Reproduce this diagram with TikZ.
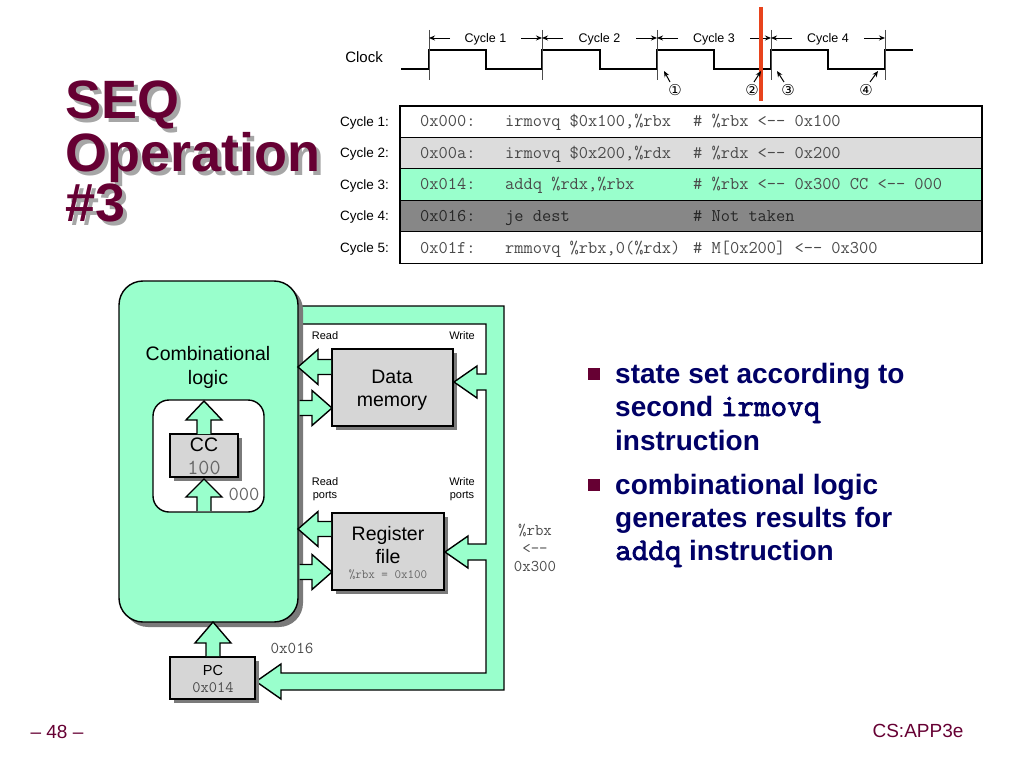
\documentclass[tikz,border=0pt]{standalone}
\usepackage{fontspec}
\setmainfont{Liberation Sans}
\newfontfamily\symfont{DejaVu Sans}
\newfontfamily\boldmono[FakeBold=2.2]{lmmono10-regular.otf}
\usetikzlibrary{arrows.meta,shadows}

\definecolor{mint}{HTML}{99FFCC}
\definecolor{titlered}{HTML}{660033}
\definecolor{navytext}{HTML}{000066}
\definecolor{boxgray}{HTML}{D6D6D6}
\definecolor{rowgray}{HTML}{DCDCDC}
\definecolor{darkrow}{HTML}{878787}
\definecolor{shadowgray}{HTML}{7A7A7A}
\definecolor{codegray}{HTML}{4A4A4A}
\definecolor{redline}{HTML}{E8431C}
\definecolor{titleshadow}{HTML}{A6A6A6}

\newcommand{\fs}[1]{\fontsize{#1}{#1}\selectfont}
\newcommand{\bulmonofont}{\boldmono\fs{31.5}}
\newcommand{\arr}{<-\kern0pt-}
\newcommand{\shadowtext}[1]{\rlap{\kern4pt\raisebox{-4pt}{\color{titleshadow}#1}}\color{titlered}#1}
% horizontal block arrow: tail x, head base x, tip x, centre y
\newcommand{\harrow}[4]{\filldraw[blk] (#1,{#4-7.5}) -- (#2,{#4-7.5}) -- (#2,{#4-17.5}) -- (#3,#4) -- (#2,{#4+17.5}) -- (#2,{#4+7.5}) -- (#1,{#4+7.5});}
% vertical block arrow: tail y, head base y, tip y, centre x
\newcommand{\varrow}[4]{\filldraw[blk] ({#4-7},#1) -- ({#4-7},#2) -- ({#4-18},#2) -- (#4,#3) -- ({#4+18},#2) -- ({#4+7},#2) -- ({#4+7},#1);}

\tikzset{
  blk/.style={fill=mint, draw=black, line width=1.4pt, line join=miter},
  box/.style={draw=black, line width=1.4pt, fill=boxgray, inner sep=0pt, outer sep=0pt,
    drop shadow={shadow xshift=4pt, shadow yshift=-4pt, fill=shadowgray, opacity=1}},
  rowbox/.style={draw=black, line width=1pt, minimum width=582pt, minimum height=31.5pt, inner sep=0pt, outer sep=0pt},
  code/.style={font=\ttfamily\fs{17.9}, text=codegray, inner sep=0pt, anchor=base west},
  cyclbl/.style={font=\fs{13.5}, inner sep=0pt, anchor=base east},
  cyc/.style={font=\fs{12.5}, inner sep=0pt, anchor=base},
  cycarrow/.style={-{Stealth[length=6pt,width=5pt]}, line width=0.9pt},
  ptr/.style={-{Stealth[length=6pt,width=5pt]}, line width=1pt},
  circ/.style={font=\symfont\fs{15}, inner sep=0pt},
  lbl/.style={font=\fs{19.5}, inner sep=0pt, anchor=base},
  small/.style={font=\fs{11}, inner sep=0pt, anchor=base},
  mono/.style={font=\ttfamily\fs{16.4}, text=codegray, inner sep=0pt, anchor=base},
  ttl/.style={font=\bfseries\fs{54}, inner sep=0pt, anchor=base west, text height=38pt, text depth=0pt},
  bul/.style={font=\bfseries\fs{28}, text=navytext, inner sep=0pt, anchor=base west, text height=20pt, text depth=4pt},
  foot/.style={font=\fs{19}, text=titlered, inner sep=0pt, anchor=base},
}

\begin{document}
\begin{tikzpicture}[x=1pt,y=-1pt]
\useasboundingbox (0,0) rectangle (1024,767);

% ---------- title ----------
\node[ttl] (t1) at (65,119) {\shadowtext{SEQ}};
\node[ttl] (t2) at (65,172) {\shadowtext{Operation}};
\node[ttl] (t3) at (65,222) {\shadowtext{\#3}};

% ---------- clock ----------
\node[font=\fs{15}, inner sep=0pt, anchor=base] (clk) at (364,62.5) {Clock};
\draw[line width=2pt] (401,69) -- (429,69) -- (429,50) -- (486,50) -- (486,69) -- (542,69) -- (542,50) -- (600,50) -- (600,69) -- (657,69) -- (657,50) -- (714,50) -- (714,69) -- (771,69) -- (771,50) -- (828,50) -- (828,69) -- (885,69) -- (885,50) -- (913,50);
\foreach \x in {429,542,657,771,885} \draw[line width=0.5pt, black!70] (\x,30) -- (\x,80);
\foreach \a/\b/\n in {429/542/1, 542/657/2, 657/771/3, 771/885/4} {
  \node[cyc] (cyc\n) at ({(\a+\b)/2},42.5) {Cycle \n};
  \coordinate (cl\n) at (\a,38);
  \coordinate (cr\n) at (\b,38);
  \draw[cycarrow] ({\a+21},38) -- (cl\n);
  \draw[cycarrow] ({\b-21},38) -- (cr\n);
}
\draw[redline, line width=3.5pt] (761,7) -- (761,101);
\node[circ] (n1) at (675,90) {①};
\node[circ] (n2) at (752,90) {②};
\node[circ] (n3) at (788,90) {③};
\node[circ] (n4) at (866,90) {④};
\coordinate (p1) at (664,71);
\coordinate (p2) at (761,71);
\coordinate (p3) at (777,71);
\coordinate (p4) at (878,71);
\draw[ptr] (670,82) -- (p1);
\draw[ptr] (754,82) -- (p2);
\draw[ptr] (784,82) -- (p3);
\draw[ptr] (870,82) -- (p4);

% ---------- instruction table ----------
\node[rowbox, fill=white]   (row1) at (691,121.75) {};
\node[rowbox, fill=rowgray] (row2) at (691,153.25) {};
\node[rowbox, fill=mint]    (row3) at (691,184.75) {};
\node[rowbox, fill=darkrow] (row4) at (691,216.25) {};
\node[rowbox, fill=white]   (row5) at (691,247.75) {};
\draw[line width=1.5pt] (row1.north west) rectangle (row5.south east);

\node[cyclbl] (cy1) at (389,126.5) {Cycle 1:};
\node[cyclbl] (cy2) at (389,158) {Cycle 2:};
\node[cyclbl] (cy3) at (389,189.5) {Cycle 3:};
\node[cyclbl] (cy4) at (389,221) {Cycle 4:};
\node[cyclbl] (cy5) at (389,252.5) {Cycle 5:};

\node[code] (a1) at (420,127) {0x000:};
\node[code] (i1) at (505,127) {irmovq \$0x100,\%rbx};
\node[code] (c1) at (693,127) {\# \%rbx \arr{} 0x100};
\node[code] (a2) at (420,158.5) {0x00a:};
\node[code] (i2) at (505,158.5) {irmovq \$0x200,\%rdx};
\node[code] (c2) at (693,158.5) {\# \%rdx \arr{} 0x200};
\node[code] (a3) at (420,190) {0x014:};
\node[code] (i3) at (505,190) {addq \%rdx,\%rbx};
\node[code] (c3) at (693,190) {\# \%rbx \arr{} 0x300 CC \arr{} 000};
\node[code, text=black!85] (a4) at (420,221.5) {0x016:};
\node[code, text=black!85] (i4) at (505,221.5) {je dest};
\node[code, text=black!85] (c4) at (693,221.5) {\# Not taken};
\node[code] (a5) at (420,253) {0x01f:};
\node[code] (i5) at (505,253) {rmmovq \%rbx,0(\%rdx)};
\node[code] (c5) at (693,253) {\# M[0x200] \arr{} 0x300};

% ---------- memories ----------
\node[box, minimum width=121pt, minimum height=77pt] (dmem) at (392.5,387.5) {};
\node[lbl] (dm1) at (392,383.5) {Data};
\node[lbl] (dm2) at (392,406.5) {memory};
\node[box, minimum width=112pt, minimum height=77pt] (rf) at (388,551.5) {};
\node[lbl] (rf1) at (388,540.5) {Register};
\node[lbl] (rf2) at (388,563.5) {file};
\node[mono, font=\ttfamily\fs{12.7}, text=black!60] (rf3) at (388,578.5) {\%rbx = 0x100};

\node[small] (rd1) at (325,339) {Read};
\node[small] (wr1) at (462,339) {Write};
\node[small] (rd2) at (325,485) {Read};
\node[small] (rd3) at (325,498.5) {ports};
\node[small] (wr2) at (462,485) {Write};
\node[small] (wr3) at (462,498.5) {ports};

% ---------- feedback bus ----------
\filldraw[blk] (298,306) -- (504,306) -- (504,690) -- (281,690) -- (281,699) -- (256,681.5) -- (281,664) -- (281,673)
  -- (486,673) -- (486,560) -- (468,560) -- (468,568) -- (445,552) -- (468,536) -- (468,544) -- (486,544)
  -- (486,390) -- (477,390) -- (477,398) -- (454,382) -- (477,366) -- (477,374) -- (486,374) -- (486,324) -- (298,324);

\node[mono] (v1) at (535,535) {\%rbx};
\node[mono] (v2) at (535,553) {\arr};
\node[mono] (v3) at (535,571) {0x300};
\node[mono, font=\ttfamily\fs{16.6}] (v4) at (292,653) {0x016};

% ---------- combinational logic ----------
\node[box, fill=mint, rounded corners=24pt, minimum width=179pt, minimum height=341pt,
  drop shadow={shadow xshift=5pt, shadow yshift=-5pt, fill=shadowgray, opacity=1}] (comb) at (208.5,451.5) {};
\node[lbl] (cb1) at (208,360) {Combinational};
\node[lbl] (cb2) at (208,384) {logic};
\node[draw=black, line width=1.4pt, fill=white, rounded corners=16pt, minimum width=111pt, minimum height=112pt, inner sep=0pt] (inner) at (208.5,456) {};
\node[box, minimum width=68pt, minimum height=43pt] (cc) at (204,455.5) {};
\node[lbl] (cc1) at (204,451) {CC};
\node[mono, font=\ttfamily\fs{21.5}, text=black!60] (cc2) at (204,474.5) {100};
\node[mono, font=\ttfamily\fs{20}, text=black!60] (cc3) at (244,500) {000};
\varrow{434}{420}{401}{204}
\varrow{511}{497}{479}{204}

% arrows between combinational logic and the memories
\harrow{331}{318}{298}{367}
\harrow{299.5}{312}{332}{408}
\harrow{331}{318}{298}{529}
\harrow{299.5}{312}{332}{572}

% ---------- PC ----------
\node[box, minimum width=85pt, minimum height=42pt] (pc) at (212.5,678) {};
\node[font=\fs{14.5}, inner sep=0pt, anchor=base] (pc1) at (213,675) {PC};
\node[mono, font=\ttfamily\fs{16}] (pc2) at (213,692) {0x014};
\varrow{656}{643}{622}{213}

% ---------- bullets ----------
\fill[titlered] (588,368) rectangle (600,380);
\fill[titlered] (588,479) rectangle (600,491);
\node[bul] (b1) at (615,383) {state set according to};
\node[bul] (b2) at (615,416) {second {\bulmonofont irmovq}};
\node[bul] (b3) at (615,450) {instruction};
\node[bul] (b4) at (615,494) {combinational logic};
\node[bul] (b5) at (615,527) {generates results for};
\node[bul] (b6) at (615,560) {{\bulmonofont addq} instruction};

% ---------- footer ----------
\node[foot] (f1) at (57,738) {– 48 –};
\node[foot] (f2) at (918,737) {CS:APP3e};
\end{tikzpicture}
\end{document}
